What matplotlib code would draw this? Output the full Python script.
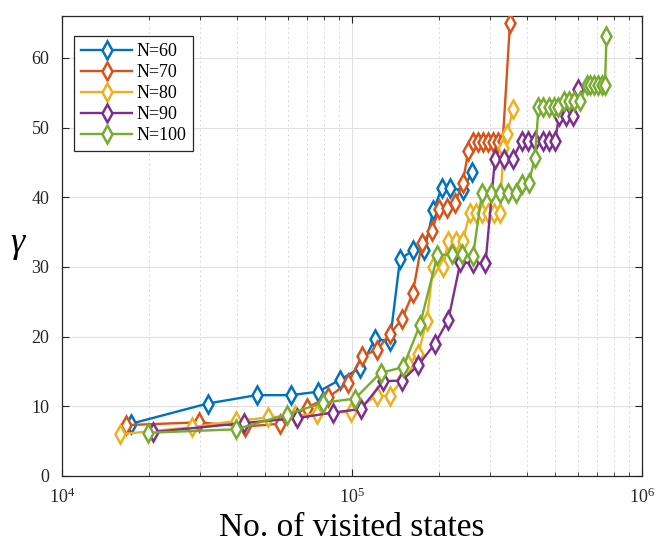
import matplotlib
matplotlib.use("Agg")
import matplotlib.pyplot as plt
from matplotlib.ticker import LogLocator, NullFormatter, FixedLocator

plt.rcParams['font.family'] = ['Liberation Serif', 'DejaVu Serif']
plt.rcParams['mathtext.fontset'] = 'custom'
plt.rcParams['mathtext.rm'] = 'Liberation Serif'
plt.rcParams['mathtext.it'] = 'Liberation Serif:italic'

labels = ["N=60", "N=70", "N=80", "N=90", "N=100"]
colors = ["#0072BD", "#D95319", "#EDB120", "#7E2F8E", "#77AC30"]

x60 = [17300, 31800, 46900, 61600, 76500, 90900, 106600, 120000, 135200, 146400,
       162700, 177600, 190700, 203900, 217700, 242000, 258700]
y60 = [7.5, 10.4, 11.6, 11.6, 12.1, 13.8, 15.5, 19.6, 19.4, 31.1,
       32.4, 32.4, 38.1, 41.3, 41.3, 41.0, 43.6]

x70 = [16600, 29700, 42800, 56500, 69800, 82900, 97100, 108300, 122000, 135200,
       148700, 161900, 174300, 188300, 200000, 213100, 226500, 240800, 251800,
       262000, 272600, 283700, 295100, 307100, 319600, 331000, 350600]
y70 = [7.3, 7.7, 7.1, 7.5, 9.8, 11.3, 13.4, 17.2, 18.1, 20.4,
       22.5, 26.2, 33.5, 35.2, 38.3, 38.5, 39.2, 42.0, 46.6,
       47.9, 47.9, 47.9, 47.9, 47.9, 47.9, 48.0, 65.0]

x80 = [15900, 28000, 39800, 51400, 63600, 75600, 99000, 122000, 135200, 148700,
       156600, 169300, 180900, 190700, 206400, 214800, 228300, 240800,
       255200, 267700, 280700, 294400, 308800, 323900, 332500, 342400, 359200]
y80 = [6.0, 7.0, 7.9, 8.4, 8.7, 8.9, 9.2, 11.5, 11.5, 13.8,
       16.0, 17.5, 22.3, 30.0, 30.0, 33.7, 33.7, 33.7,
       37.8, 37.8, 37.8, 37.8, 37.8, 37.8, 47.0, 49.0, 52.6]

x90 = [20600, 42400, 64500, 85700, 107400, 128200, 148700, 169300, 193300, 214800,
       236600, 261400, 288600, 311200, 334300, 357700,
       384700, 405400, 427600, 456700, 478900, 501200,
       517400, 547000, 578200, 603000]
y90 = [6.3, 7.6, 8.3, 9.1, 9.6, 13.6, 13.7, 15.9, 19.0, 22.4,
       30.7, 30.5, 30.5, 45.5, 45.5, 45.5,
       48.0, 48.0, 48.0, 48.0, 48.0, 48.0,
       51.6, 51.6, 51.6, 55.5]

x100 = [19800, 39800, 59500, 79200, 102400, 125400, 149900, 171600, 197100, 220700,
        240400, 261400, 280700, 302700, 323900, 345900, 366300, 385700, 406100,
        427600, 439600, 457400, 476000, 495300, 514500, 536200, 560200, 585000,
        611300, 643700, 661800, 683100, 705200, 728000, 745500, 754300]
y100 = [6.2, 6.7, 8.8, 10.5, 11.1, 14.8, 15.6, 21.7, 31.7, 31.8,
        31.8, 31.6, 40.6, 40.6, 40.6, 40.6, 40.6, 41.9, 42.0,
        45.6, 53.0, 53.0, 53.0, 53.0, 53.0, 53.8, 53.8, 53.8,
        53.8, 56.1, 56.1, 56.1, 56.1, 56.1, 56.1, 63.2]

xs = [x60, x70, x80, x90, x100]
ys = [y60, y70, y80, y90, y100]

fig = plt.figure(figsize=(6.64, 5.48), dpi=100)
ax = fig.add_axes([62/664, 1-476/548, 580/664, 460/548])

for x, y, c, lab in zip(xs, ys, colors, labels):
    ax.plot(x, y, color=c, lw=1.7, marker='d', markersize=9,
            markerfacecolor='white', markeredgecolor=c, markeredgewidth=1.8,
            label=lab, zorder=3)

ax.set_xscale('log')
ax.set_xlim(1e4, 1e6)
ax.set_ylim(0, 66)
ax.yaxis.set_major_locator(FixedLocator([0, 10, 20, 30, 40, 50, 60]))
ax.xaxis.set_major_locator(LogLocator(base=10, numticks=10))
ax.xaxis.set_minor_locator(LogLocator(base=10, subs=range(2, 10), numticks=20))
ax.xaxis.set_minor_formatter(NullFormatter())

ax.grid(True, which='major', color='#E0E0E0', lw=0.8, zorder=0)
ax.grid(True, which='minor', axis='x', color='#D8D8D8', lw=0.7, ls=(0, (2, 3)), zorder=0)
ax.set_axisbelow(True)

for s in ax.spines.values():
    s.set_color('#262626')
    s.set_linewidth(0.9)

ax.tick_params(which='both', direction='in', top=True, right=True, colors='#262626',
               labelsize=13, labelcolor='#262626')
ax.tick_params(which='major', length=5)
ax.tick_params(which='minor', length=3)
ax.tick_params(axis='x', pad=8)
ax.tick_params(axis='y', pad=9)

ax.set_xlabel('No. of visited states', fontsize=24, color='black', labelpad=4)
ax.set_ylabel(r'$\gamma$', fontsize=26, rotation=0, color='black', labelpad=9, va='center')

leg = ax.legend(loc='upper left', bbox_to_anchor=((74-62)/580, (476-36)/460), fontsize=13,
                frameon=True, fancybox=False, edgecolor='#262626', framealpha=1,
                handlelength=2.8, handletextpad=0.25, borderpad=0.4, labelspacing=0.22,
                borderaxespad=0.0)
leg.get_frame().set_linewidth(0.9)

fig.savefig('out.png', dpi=100)
